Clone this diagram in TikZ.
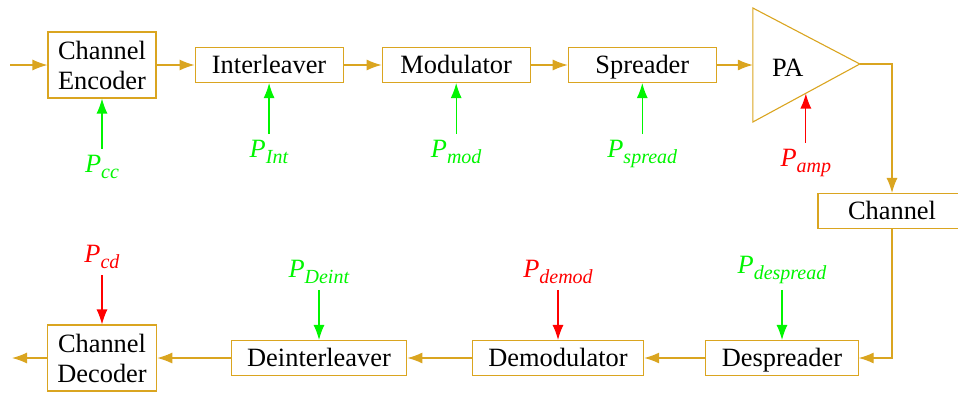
\documentclass[tikz,border=0pt]{standalone}
\usepackage{fontspec}
\setmainfont{Liberation Serif}
\usetikzlibrary{positioning,arrows.meta,calc}
\definecolor{gold}{RGB}{218,165,32}
\definecolor{pgreen}{RGB}{0,245,0}
\definecolor{pred}{RGB}{255,0,0}
\tikzstyle{pbox}=[rectangle, draw=gold, line width=0.55pt, minimum width=74pt,
                  minimum height=17.5pt, inner xsep=8pt, inner ysep=0pt,
                  text height=11.5pt, text depth=2.8pt, text centered]
\tikzstyle{cbox}=[rectangle, draw=gold, line width=0.55pt, minimum height=33pt,
                  inner xsep=5pt, inner ysep=0pt, align=center]
\tikzstyle{plab}=[inner sep=3pt]
\tikzstyle{pline}=[-{Latex[length=7.5pt,width=5.5pt]}, gold, line width=0.6pt]
\tikzstyle{gline}=[-{Latex[length=7.5pt,width=5.5pt]}, pgreen, line width=0.6pt]
\tikzstyle{rline}=[-{Latex[length=7.5pt,width=5.5pt]}, pred, line width=0.6pt]
\newcommand{\Psub}[1]{\textit{P}\raisebox{-3pt}{\fontsize{10}{12}\selectfont\textit{#1}}}

\begin{document}
\begin{tikzpicture}[x=0.5pt, y=-0.5pt, node distance=19pt,
                    font=\fontsize{13.2}{15}\selectfont]
\useasboundingbox (0,0) rectangle (958,392);

% transmitter
\node (CHENC) [cbox] at (102,65) {Channel\\Encoder};
\node (INTLV) [pbox, right=19pt of CHENC] {Interleaver};
\node (MOD) [pbox, right=19pt of INTLV] {Modulator};
\node (SPRD) [pbox, right=18.5pt of MOD] {Spreader};
\coordinate [right=18pt of SPRD] (PAin);
\draw[gold, line width=0.55pt] ($(PAin)+(0,-57)$) -- ($(PAin)+(107,-1)$) coordinate (PAtip)
  -- ($(PAin)+(0,57)$) -- cycle;
\node (PA) at ($(PAin)+(35,3)$) {PA};
\coordinate (PAbot) at ($(PAin)+(53,28.5)$);
\coordinate (IN) at (10,65);

\node (PCC) [plab, pgreen, below=25pt of CHENC] {\Psub{cc}};
\node (PINT) [plab, pgreen, below=25.5pt of INTLV] {\Psub{Int}};
\node (PMOD) [plab, pgreen, below=25.5pt of MOD] {\Psub{mod}};
\node (PSPRD) [plab, pgreen, below=25.5pt of SPRD] {\Psub{spread}};
\node (PAMP) [plab, pred, below=24.5pt of PAbot] {\Psub{amp}};

% channel
\node (CHAN) [pbox] at (892,211) {Channel};

% receiver
\node (DESPRD) [pbox] at (782,358) {Despreader};
\node (DEMOD) [pbox] at (558,358) {Demodulator};
\node (DEINTLV) [pbox] at (319,358) {Deinterleaver};
\node (CHDEC) [cbox] at (102,358) {Channel\\Decoder};
\coordinate (OUT) at (12,358);

\node (PCD) [plab, pred, above=24.5pt of CHDEC] {\Psub{cd}};
\node (PDEINT) [plab, pgreen, above=25pt of DEINTLV] {\Psub{Deint}};
\node (PDEMOD) [plab, pred, above=25pt of DEMOD] {\Psub{demod}};
\node (PDESPRD) [plab, pgreen, above=25pt of DESPRD] {\Psub{despread}};

\draw[pline] (IN) -- (CHENC.west);
\draw[pline] (CHENC.east) -- (INTLV.west);
\draw[pline] (INTLV.east) -- (MOD.west);
\draw[pline] (MOD.east) -- (SPRD.west);
\draw[pline] (SPRD.east) -- (PAin);
\draw[pline] (PAtip) -| (CHAN.north);
\draw[pline] (CHAN.south) |- (DESPRD.east);
\draw[pline] (DESPRD.west) -- (DEMOD.east);
\draw[pline] (DEMOD.west) -- (DEINTLV.east);
\draw[pline] (DEINTLV.west) -- (CHDEC.east);
\draw[pline] (CHDEC.west) -- (OUT);

\draw[gline] (PCC.north) -- (CHENC.south);
\draw[gline] (PINT.north) -- (INTLV.south);
\draw[gline] (PMOD.north) -- (MOD.south);
\draw[gline] (PSPRD.north) -- (SPRD.south);
\draw[rline] (PAMP.north) -- (PAbot);
\draw[rline] (PCD.south) -- (CHDEC.north);
\draw[gline] (PDEINT.south) -- (DEINTLV.north);
\draw[rline] (PDEMOD.south) -- (DEMOD.north);
\draw[gline] (PDESPRD.south) -- (DESPRD.north);

\end{tikzpicture}
\end{document}
